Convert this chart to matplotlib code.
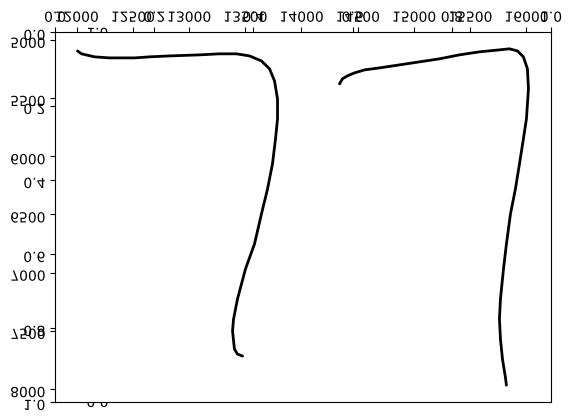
import matplotlib
matplotlib.use("Agg")
import matplotlib.pyplot as plt
from matplotlib.patheffects import AbstractPathEffect
from matplotlib.transforms import Affine2D
from matplotlib.text import Text

# ---- data ----
left_value = [12009, 12044, 12160, 12293, 12516, 12649, 12827, 13093, 13271, 13422,
              13538, 13644, 13716, 13760, 13787, 13787, 13769, 13742, 13698, 13644,
              13582, 13502, 13431, 13396, 13387, 13404, 13431, 13476]
left_depth = [5095, 5120, 5146, 5155, 5155, 5146, 5138, 5129, 5120, 5120,
              5138, 5181, 5249, 5352, 5507, 5679, 5851, 6066, 6281, 6496,
              6754, 6968, 7226, 7398, 7501, 7656, 7699, 7716]
right_value = [14338, 14364, 14409, 14471, 14560, 14693, 14871, 15049, 15227, 15404,
               15582, 15760, 15849, 15920, 15973, 16009, 16018, 16000, 15973, 15938,
               15902, 15858, 15822, 15796, 15769, 15760, 15769, 15787, 15813, 15822]
right_depth = [5378, 5335, 5309, 5284, 5258, 5241, 5215, 5189, 5163, 5129,
               5103, 5086, 5077, 5095, 5146, 5249, 5421, 5679, 5851, 6066,
               6281, 6496, 6754, 6968, 7226, 7398, 7570, 7742, 7897, 7966]
value_ticks = [12000, 12500, 13000, 13500, 14000, 14500, 15000, 15500, 16000]
depth_ticks = [5000, 5500, 6000, 6500, 7000, 7500, 8000]
unit_ticks = [0.0, 0.2, 0.4, 0.6, 0.8, 1.0]


class FlipGlyphs(AbstractPathEffect):
    """Draw text glyphs mirrored top-to-bottom (the picture is upside down)."""
    def __init__(self, c=27.6):
        super().__init__()
        self.c = c

    def draw_path(self, renderer, gc, tpath, affine, rgbFace=None):
        flip = Affine2D().translate(0, -self.c).scale(1, -1).translate(0, self.c)
        renderer.draw_path(gc, tpath, flip + affine, rgbFace)


W, H = 572, 418
fig = plt.figure(figsize=(W / 100, H / 100), dpi=100)
rect = [55 / W, 16 / H, 496 / W, 370 / H]

# a unit axes lying behind the others: only its end labels peek out
axb = fig.add_axes([118 / W, 19 / H, 433 / W, 369 / H], frameon=False, zorder=-1)
axb.set_ylim(0, 1)
axb.set_yticks(unit_ticks)
axb.set_xticks([])
axb.tick_params(labelsize=10, length=0, pad=7)

# unit axes (0..1), drawn upside-down
ax0 = fig.add_axes(rect, zorder=0)
ax0.set_xlim(0, 1)
ax0.set_ylim(1, 0)
ax0.set_xticks(unit_ticks)
ax0.set_yticks(unit_ticks)
ax0.xaxis.tick_top()
ax0.tick_params(labelsize=10)

# data axes
ax1 = fig.add_axes(rect, frameon=False, zorder=1)
ax1.plot(left_value, left_depth, color="black", lw=2, solid_capstyle="round")
ax1.plot(right_value, right_depth, color="black", lw=2, solid_capstyle="round")
ax1.invert_yaxis()
ax1.set_xticks(value_ticks)
ax1.set_yticks(depth_ticks)
ax1.xaxis.tick_top()
ax1.tick_params(labelsize=10)

fig.canvas.draw()
for t in fig.findobj(Text):
    t.set_path_effects([FlipGlyphs()])

fig.savefig("out.png", dpi=100)
